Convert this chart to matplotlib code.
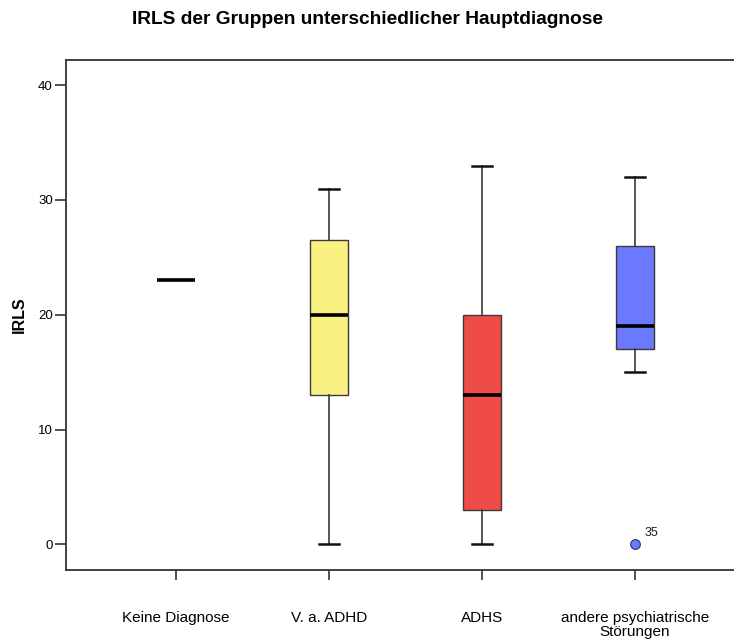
import matplotlib
matplotlib.use("Agg")
import matplotlib.pyplot as plt

# Daten
gruppen = ["Keine Diagnose", "V. a. ADHD", "ADHS", "andere psychiatrische\nStörungen"]
whisker_unten = [23, 0, 0, 15]
q1 = [23, 13, 3, 17]
median = [23, 20, 13, 19]
q3 = [23, 26.5, 20, 26]
whisker_oben = [23, 31, 33, 32]
ausreisser = [[], [], [], [0]]
ausreisser_label = [[], [], [], ["35"]]
farben = ["#FFFFFF", "#F9F282", "#EF4C48", "#6B79FF"]
y_ticks = [0, 10, 20, 30, 40]

plt.rcParams["font.family"] = ["Liberation Sans", "DejaVu Sans"]

fig = plt.figure(figsize=(7.34, 6.40), dpi=100)
ax = fig.add_axes([66 / 734, 1 - 569.5 / 640, 1 - 66 / 734, (569.5 - 60) / 640])

stats = []
for i in range(len(gruppen)):
    stats.append({
        "med": median[i], "q1": q1[i], "q3": q3[i],
        "whislo": whisker_unten[i], "whishi": whisker_oben[i],
        "fliers": ausreisser[i], "label": gruppen[i],
    })

pos = list(range(1, len(gruppen) + 1))
bp = ax.bxp(stats, positions=pos, widths=0.25, patch_artist=True,
            showfliers=True,
            boxprops=dict(edgecolor="#3a3a3a", linewidth=1.0),
            whiskerprops=dict(color="#3a3a3a", linewidth=1.2),
            capprops=dict(color="#111111", linewidth=1.8),
            capwidths=0.125,
            medianprops=dict(color="black", linewidth=2.6),
            flierprops=dict(marker="o", markerfacecolor=farben[3], markeredgecolor="#333366",
                            markersize=7, markeredgewidth=0.8))

for box, c in zip(bp["boxes"], farben):
    box.set_facecolor(c)

# Keine Diagnose: nur ein Wert -> nur der Medianstrich
bp["boxes"][0].set_visible(False)
bp["caps"][0].set_visible(False)
bp["caps"][1].set_visible(False)

# Ausreisser beschriften
for i, labs in enumerate(ausreisser_label):
    for v, l in zip(ausreisser[i], labs):
        ax.annotate(l, (pos[i], v), xytext=(7, 6), textcoords="offset points",
                    fontsize=9, color="#222222")

ax.set_xlim(0.281, 4.647)
ax.set_ylim(-2.2, 42.2)
ax.set_yticks(y_ticks)
ax.set_xticks(pos)
ax.set_xticklabels(gruppen, fontsize=11, linespacing=0.95)
ax.tick_params(axis="y", labelsize=9.5, length=8, width=1.2, color="#333333", pad=1.5)
ax.tick_params(axis="x", length=7, width=1.2, color="#333333", pad=23)

ax.spines["right"].set_visible(False)
for s in ["left", "bottom", "top"]:
    ax.spines[s].set_color("#333333")
    ax.spines[s].set_linewidth(1.3)

ax.set_ylabel("IRLS", fontsize=11.5, fontweight="bold", labelpad=8)
fig.text(0.5, 1 - 20 / 640, "IRLS der Gruppen unterschiedlicher Hauptdiagnose",
         ha="center", va="center", fontsize=13.8, fontweight="bold")

fig.savefig("out.png", dpi=100)
